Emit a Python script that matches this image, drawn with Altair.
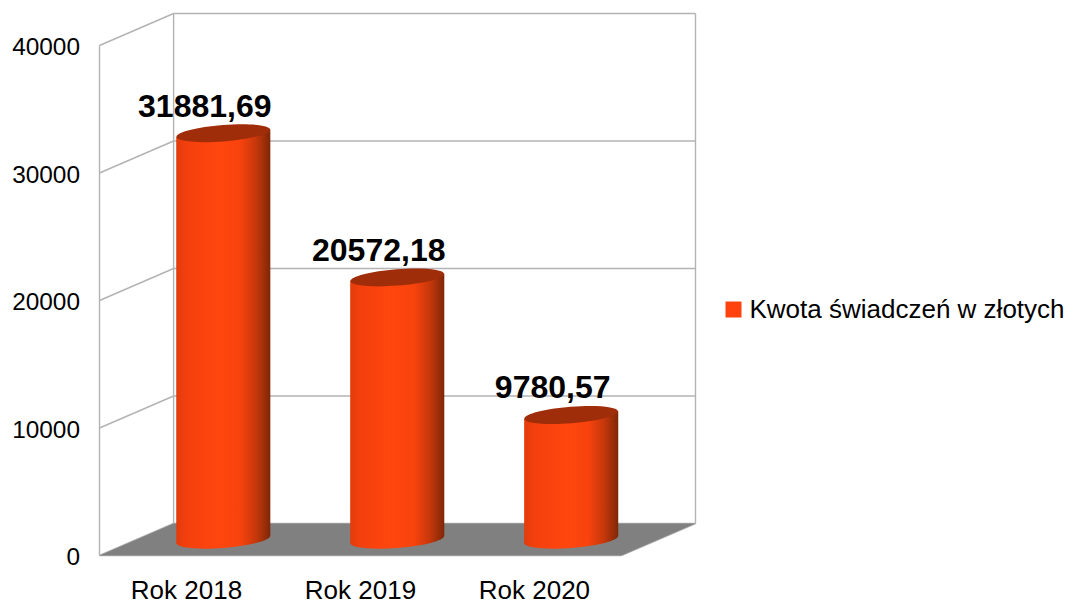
import altair as alt
import pandas as pd

categories = ["Rok 2018", "Rok 2019", "Rok 2020"]
values = [31881.69, 20572.18, 9780.57]
value_labels = ["31881,69", "20572,18", "9780,57"]
y_ticks = [0, 10000, 20000, 30000, 40000]
series_name = "Kwota świadczeń w złotych"

FONT = "Liberation Sans"
# 3D look: the chart is drawn in data units, depth is a shift in x and y
DEPTH_X = 0.426      # category units
DEPTH_Y = 2510       # value units
BAR_DX = 0.2115      # how far back the cylinders stand
BAR_DY = 1240
HALF = 0.2705        # half width of a cylinder
TILT = 290           # slant of the ellipses in value units
N = len(categories)

SCALE_X = alt.Scale(domain=[0, N + DEPTH_X], nice=False, zero=False)
SCALE_Y = alt.Scale(domain=[0, 40000 + DEPTH_Y], nice=False, zero=False)
Y_AXIS = alt.Axis(
    values=y_ticks, title=None, domain=False, ticks=False, grid=False, format="d",
    labelFont=FONT, labelFontSize=24.4, labelColor="#000000", labelPadding=20, labelOffset=2)
X = lambda f: alt.X(f, type="quantitative", scale=SCALE_X, axis=None)
Y = lambda f: alt.Y(f, type="quantitative", scale=SCALE_Y, axis=Y_AXIS)

# floor
floor = pd.DataFrame({
    "x": [0, DEPTH_X, N, N + DEPTH_X],
    "y": [0, 0, 0, DEPTH_Y],
    "y2": [0, DEPTH_Y, DEPTH_Y, DEPTH_Y],
})
floor_layer = alt.Chart(floor).mark_area(color="#808080", interpolate="linear", opacity=1).encode(
    x=X("x"), y=Y("y"), y2="y2")

# frame and grid
frame_rows = []
def seg(name, x0, y0, x1, y1):
    frame_rows.append({"k": name, "x": x0, "y": y0})
    frame_rows.append({"k": name, "x": x1, "y": y1})
seg("front", 0, 0, 0, 40000)
seg("back", DEPTH_X, DEPTH_Y, DEPTH_X, 40000 + DEPTH_Y)
seg("right", N + DEPTH_X, DEPTH_Y, N + DEPTH_X, 40000 + DEPTH_Y)
seg("bottom", 0, 0, N, 0)
seg("fr", N, 0, N + DEPTH_X, DEPTH_Y)
for t in y_ticks:
    seg(f"side{t}", 0, t, DEPTH_X, t + DEPTH_Y)
    seg(f"wall{t}", DEPTH_X, t + DEPTH_Y, N + DEPTH_X, t + DEPTH_Y)
frame_layer = alt.Chart(pd.DataFrame(frame_rows)).mark_line(
    color="#b3b3b3", strokeWidth=1.4, interpolate="linear").encode(
    x=X("x"), y=Y("y"), detail="k:N")

# cylinders
centers = [i + 0.5 + BAR_DX for i in range(N)]
bars = pd.DataFrame({
    "cat": categories, "value": values, "label": value_labels, "c": centers,
    "cx0": [c - 0.1 for c in centers], "cx1": [c + 0.1 for c in centers],
    "base": BAR_DY, "top": [v + BAR_DY for v in values],
    "s": series_name,
})
rows = []
for c, cat, v in zip(centers, categories, values):
    rows.append({"cat": cat, "x": c - HALF, "lo": BAR_DY - TILT, "hi": v + BAR_DY - TILT})
    rows.append({"cat": cat, "x": c + HALF, "lo": BAR_DY + TILT, "hi": v + BAR_DY + TILT})
bodies = pd.DataFrame(rows)

grad = alt.Gradient(
    gradient="linear", x1=0, x2=1, y1=0, y2=0,
    stops=[
        alt.GradientStop(offset=0, color="#e23c0c"),
        alt.GradientStop(offset=0.12, color="#f4400d"),
        alt.GradientStop(offset=0.45, color="#ff460e"),
        alt.GradientStop(offset=0.68, color="#f8430d"),
        alt.GradientStop(offset=0.85, color="#c5370b"),
        alt.GradientStop(offset=1, color="#7e2707"),
    ])

legend_bar = alt.Chart(bars).mark_bar(opacity=1).encode(
    x=X("cx0"), x2="cx1", y=Y("base"), y2="top",
    color=alt.Color("s:N", scale=alt.Scale(domain=[series_name], range=["#ff420e"]),
                    legend=alt.Legend(
                        title=None, orient="none", legendX=621, legendY=283,
                        symbolType="square", symbolSize=256, symbolStrokeWidth=0,
                        labelFont=FONT, labelFontSize=26, labelColor="#000000",
                        labelOffset=3, padding=0, labelLimit=400)),
)

ELLIPSE = ("M-0.997,0.078A1,0.175,-4.5,1,1,0.997,-0.078"
           "A1,0.175,-4.5,1,1,-0.997,0.078Z")
bottom_layer = alt.Chart(bars).mark_point(
    shape=ELLIPSE, size=8836, filled=True, fill=grad, opacity=1, strokeWidth=0).encode(
    x=X("c"), y=Y("base"))
body_layer = alt.Chart(bodies).mark_area(fill=grad, interpolate="linear", opacity=1, line=False).encode(
    x=X("x"), y=Y("lo"), y2="hi", detail="cat:N")
cap_layer = alt.Chart(bars).mark_point(
    shape=ELLIPSE, size=8836, filled=True, fill="#a02d09", opacity=1, strokeWidth=0).encode(
    x=X("c"), y=Y("top"))

label_layer = alt.Chart(bars).mark_text(
    font=FONT, fontSize=32, fontWeight="bold", color="#000000",
    align="center", baseline="alphabetic", dx=-18.5, dy=-16.5).encode(
    x=X("c"), y=Y("top"), text="label:N")

cat_df = pd.DataFrame({"cat": categories, "x": [i + 0.5 for i in range(N)], "y": [0] * N})
cat_layer = alt.Chart(cat_df).mark_text(
    font=FONT, fontSize=26, color="#000000", align="center", baseline="middle", dy=35).encode(
    x=X("x"), y=Y("y"), text="cat:N")

chart = alt.layer(
    frame_layer, floor_layer, legend_bar, bottom_layer, body_layer,
    cap_layer, label_layer, cat_layer,
).properties(
    width=596, height=542,
    autosize=alt.AutoSizeParams(type="none"),
    padding={"left": 91.5, "top": 5.5, "right": 370, "bottom": 49.5},
    background="#ffffff",
).configure_view(stroke=None)

chart.save("out.html", embed_options={"renderer": "svg", "actions": False})
